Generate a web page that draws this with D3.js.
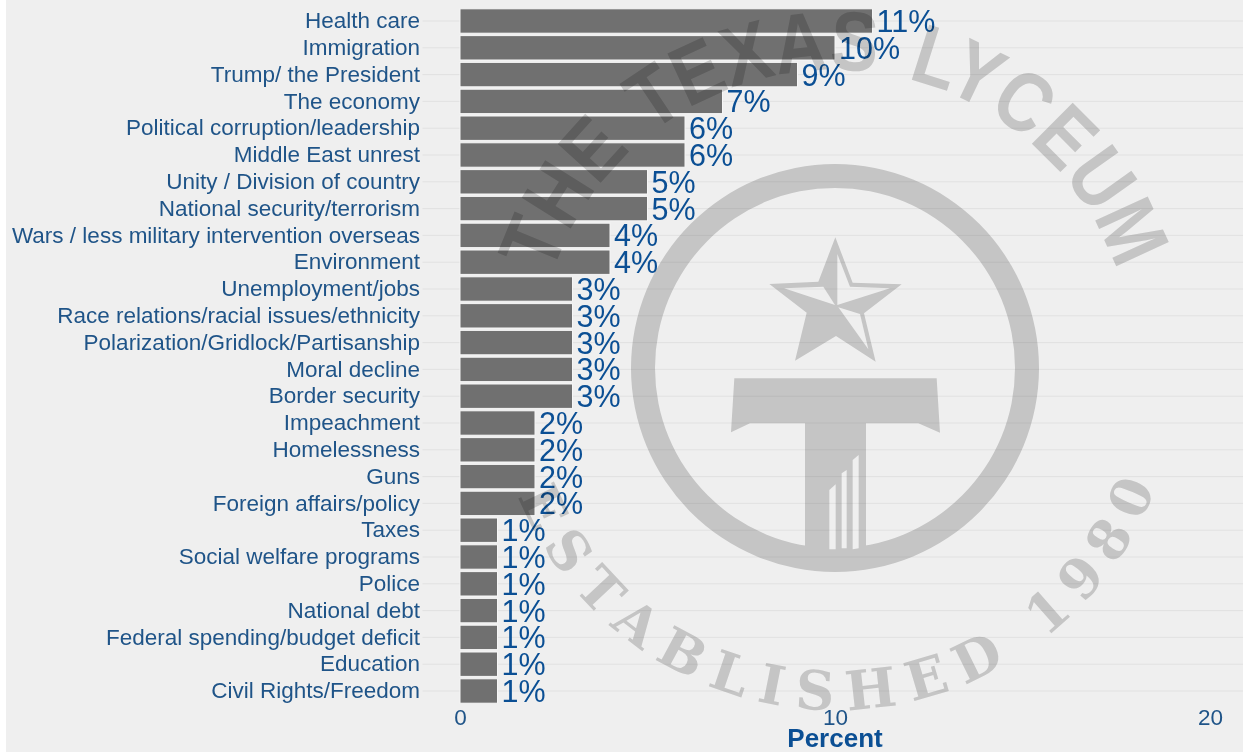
<!DOCTYPE html>
<html>
<head>
<meta charset="utf-8">
<title>Most important problem</title>
<script src="https://cdn.jsdelivr.net/npm/d3@7"></script>
<style>
  html, body { margin: 0; padding: 0; background: #fff; overflow: hidden; }
  svg { display: block; font-family: "Liberation Sans", sans-serif; }
  .axis path, .axis line { display: none; }
  .axis text { fill: #1f5488; font-size: 22.5px; font-family: "Liberation Sans", sans-serif; }
  .grid { stroke: #e1e1e1; stroke-width: 1; }
  .bar { fill: #707070; stroke: #f6f6f6; stroke-width: 1; }
  .value { fill: #0b4f94; font-size: 30.5px; }
  .x-title { fill: #0b4f94; font-size: 26px; font-weight: bold; }
  .logo { mix-blend-mode: multiply; }
  .logo .ink { fill: #d3d3d3; }
  .logo .cut { fill: #fff; }
</style>
</head>
<body>
<svg id="chart" width="1243" height="752"></svg>
<script>
const categories = [
  'Health care', 'Immigration', 'Trump/ the President', 'The economy',
  'Political corruption/leadership', 'Middle East unrest', 'Unity / Division of country',
  'National security/terrorism', 'Wars / less military intervention overseas', 'Environment',
  'Unemployment/jobs', 'Race relations/racial issues/ethnicity',
  'Polarization/Gridlock/Partisanship', 'Moral decline', 'Border security', 'Impeachment',
  'Homelessness', 'Guns', 'Foreign affairs/policy', 'Taxes', 'Social welfare programs',
  'Police', 'National debt', 'Federal spending/budget deficit', 'Education', 'Civil Rights/Freedom'
];
const percents = [11, 10, 9, 7, 6, 6, 5, 5, 4, 4, 3, 3, 3, 3, 3, 2, 2, 2, 2, 1, 1, 1, 1, 1, 1, 1];
const xTicks = [0, 10, 20];

const width = 1243;
const height = 752;
const svg = d3.select('#chart');

svg.append('rect')
  .attr('x', 6)
  .attr('width', width - 6)
  .attr('height', height)
  .attr('fill', '#efefef');

const x = d3.scaleLinear().domain([0, 20]).range([460, 1210]);
const y = d3.scaleBand().domain(categories).range([7.6, 704.4]).paddingInner(0.09).paddingOuter(0.045);

// horizontal gridlines only, they run past the plot to the page edge
svg.append('g')
  .selectAll('line')
  .data(categories)
  .join('line')
  .attr('class', 'grid')
  .attr('x1', x(-1))
  .attr('x2', width)
  .attr('y1', d => y(d) + y.bandwidth() / 2)
  .attr('y2', d => y(d) + y.bandwidth() / 2);

svg.append('g')
  .selectAll('rect')
  .data(categories)
  .join('rect')
  .attr('class', 'bar')
  .attr('x', x(0))
  .attr('y', d => y(d))
  .attr('width', (d, i) => x(percents[i]) - x(0))
  .attr('height', y.bandwidth());

svg.append('g')
  .selectAll('text')
  .data(categories)
  .join('text')
  .attr('class', 'value')
  .attr('x', (d, i) => x(percents[i]) + 4)
  .attr('y', d => y(d) + y.bandwidth() / 2)
  .attr('dy', '0.36em')
  .text((d, i) => `${percents[i]}%`);

svg.append('g')
  .attr('class', 'axis')
  .attr('transform', `translate(${x(0)},0)`)
  .call(d3.axisLeft(y).tickSize(0).tickPadding(40));

svg.append('g')
  .attr('class', 'axis')
  .attr('transform', 'translate(0,704)')
  .call(d3.axisBottom(x).tickValues(xTicks).tickFormat(d3.format('d')).tickSize(0).tickPadding(5));

svg.append('text')
  .attr('class', 'x-title')
  .attr('x', x(10))
  .attr('y', 746.5)
  .attr('text-anchor', 'middle')
  .text('Percent');

// Watermark, drawn last and multiplied so bars and gridlines show through.
const logoX = 835;
const logoY = 368;
const deg = Math.PI / 180;
const logo = svg.append('g').attr('class', 'logo');
const defs = svg.append('defs');

const ringOuter = 204;
const ringInner = 180;
const ring = d3.path();
ring.arc(logoX, logoY, ringOuter, 0, 2 * Math.PI);
ring.moveTo(logoX + ringInner, logoY);
ring.arc(logoX, logoY, ringInner, 0, 2 * Math.PI, true);
logo.append('path').attr('class', 'ink').attr('d', ring.toString());

// emblem outlines traced at 3x from the top-left of their box
const emblem = (parent, dx, dy, shapes, cls) => parent.append('g')
  .attr('transform', `translate(${dx},${dy}) scale(${1 / 3})`)
  .selectAll('polygon')
  .data(shapes)
  .join('polygon')
  .attr('class', cls)
  .attr('points', d => d.join(' '));

const starInk = [[226, 22, 278, 158, 425, 163, 312, 250, 347, 395, 228, 318, 105, 392, 140, 248, 28, 162, 175, 155]];
const starCuts = [
  [232, 72, 270, 170, 390, 175, 232, 225],
  [72, 175, 190, 170, 225, 225],
  [235, 232, 300, 252, 325, 358]
];
const columnInk = [[343, 685, 950, 685, 960, 848, 895, 820, 738, 820, 738, 1200, 555, 1200, 555, 820, 390, 820, 333, 847]];
const columnCuts = [
  [628, 1020, 647, 1003, 647, 1198, 628, 1198],
  [665, 970, 680, 960, 680, 1195, 665, 1195],
  [698, 930, 716, 915, 716, 1195, 698, 1198]
];
emblem(logo, 760, 230, starInk, 'ink');
emblem(logo, 760, 230, starCuts, 'cut');
emblem(logo, 620, 150, columnInk, 'ink');
emblem(logo, 620, 150, columnCuts, 'cut');

// each word sits on its own arc, angles in degrees from the +x axis
const arcWord = (word, i, opts) => {
  const id = `arc-${opts.name}-${i}`;
  const p = d3.path();
  p.arc(logoX, logoY, opts.r, word.from * deg, word.to * deg, opts.ccw);
  defs.append('path').attr('id', id).attr('d', p.toString());
  logo.append('text')
    .attr('class', 'ink')
    .attr('font-family', opts.family)
    .attr('font-weight', 'bold')
    .attr('font-size', opts.size)
    .append('textPath')
    .attr('href', `#${id}`)
    .attr('textLength', opts.r * Math.abs(word.to - word.from) * deg)
    .attr('lengthAdjust', opts.adjust)
    .text(word.text);
};

const topWords = [
  { text: 'THE', from: -162, to: -133 },
  { text: 'TEXAS', from: -128, to: -82 },
  { text: 'LYCEUM', from: -76, to: -19 }
];
const bottomWords = [
  { text: 'ESTABLISHED', from: 158, to: 60 },
  { text: '1980', from: 52, to: 20.5 }
];
topWords.forEach((w, i) => arcWord(w, i, {
  name: 'top', r: 298, ccw: false, size: 84,
  family: '"Liberation Sans", sans-serif', adjust: 'spacingAndGlyphs'
}));
bottomWords.forEach((w, i) => arcWord(w, i, {
  name: 'bottom', r: 342, ccw: true, size: 54,
  family: '"DejaVu Serif", serif', adjust: 'spacing'
}));
</script>
</body>
</html>
